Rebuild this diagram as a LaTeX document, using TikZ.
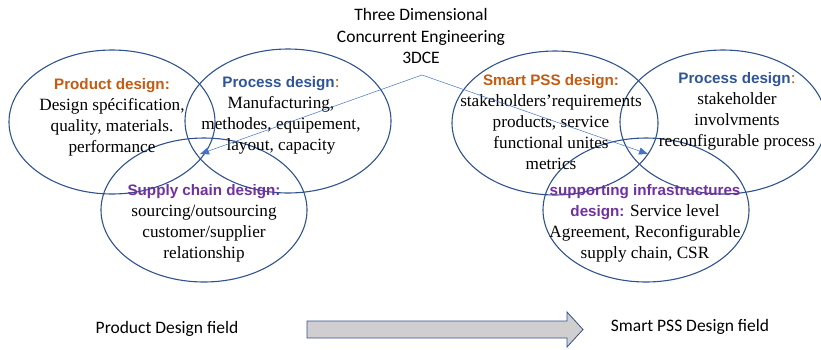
\documentclass[tikz,border=0pt]{standalone}
\usepackage{fontspec}
\setmainfont{Liberation Serif}
\setsansfont{Liberation Sans}
\newfontfamily\calibri{Carlito}
\usepackage{xcolor}
\usetikzlibrary{arrows.meta,shapes.geometric}

\definecolor{ringblue}{HTML}{2F528F}
\definecolor{headorange}{HTML}{C55A11}
\definecolor{headblue}{HTML}{2F5597}
\definecolor{headpurple}{HTML}{7030A0}
\definecolor{linkblue}{HTML}{4472C4}
\definecolor{fieldgray}{HTML}{D0CECE}

\newcommand{\headtxt}[2]{{\color{#1}\sffamily\bfseries\fontsize{15.2}{18}\selectfont #2}}

\begin{document}
\begin{tikzpicture}[x=1pt,y=-1pt,
  ring/.style={draw=ringblue, line width=1.1pt, ellipse, inner sep=0pt,
    minimum width=206pt, minimum height=144pt},
  body/.style={align=center, inner sep=0pt, font=\fontsize{17.2}{21}\selectfont},
  label/.style={font=\calibri\fontsize{17.5}{21.5}\selectfont, align=center, inner sep=0pt},
  link/.style={draw=linkblue, line width=0.5pt, -{Triangle[length=9pt,width=7pt]}}]
				\useasboundingbox (0,0) rectangle (821,349);
				
				% Title
				\node[label] (title) at (421,36) {Three Dimensional\\Concurrent Engineering\\3DCE};
				\coordinate (fork) at (422,75);
				
				% Product design field
				\node[ring] (prod) at (112,122) {};
				\node[ring] (proc) at (288,121) {};
				\node[ring] (supp) at (204,210) {};
				\node[body] (prodtxt) at (112,117) {\headtxt{headorange}{Product design:}\\Design spécification,\\quality, materials.\\performance};
				\node[body] (proctxt) at (281,115) {\headtxt{headblue}{Process design}{\color{headorange}:}\\Manufacturing,\\methodes, equipement,\\layout, capacity};
				\node[body] (supptxt) at (204,223) {\headtxt{headpurple}{Supply chain design:}\\sourcing/outsourcing\\customer/supplier\\relationship};
				
				% Smart PSS design field
				\node[ring] (pss) at (555,123) {};
				\node[ring] (proc2) at (723,122) {};
				\node[ring] (infra) at (646,210) {};
				\node[body] (psstxt) at (551,122) {\headtxt{headorange}{Smart PSS design:}\\stakeholders’requirements\\products, service\\functional unites\\metrics};
				\node[body] (proc2txt) at (737,111) {\headtxt{headblue}{Process design}{\color{headorange}:}\\stakeholder\\involvments\\reconfigurable process};
				\node[body] (infratxt) at (645,223) {\headtxt{headpurple}{supporting infrastructures}\\\headtxt{headpurple}{design:} Service level\\Agreement, Reconfigurable\\supply chain, CSR};
				
				% Connectors from 3DCE
				\coordinate (leftend) at (200,154);
				\coordinate (rightend) at (648,154);
				\draw[link] (fork) -- (leftend);
				\draw[link] (fork) -- (rightend);
				
				% Bottom fields
				\node[label] (fromfield) at (167,329) {Product Design field};
				\node[label] (tofield) at (690,327) {Smart PSS Design field};
				\draw[draw=ringblue, fill=fieldgray, line width=0.8pt]
					(307,321) -- (567,321) -- (567,312) -- (583,329.5) -- (567,347) -- (567,338) -- (307,338) -- cycle;
				
			\end{tikzpicture}
\end{document}
